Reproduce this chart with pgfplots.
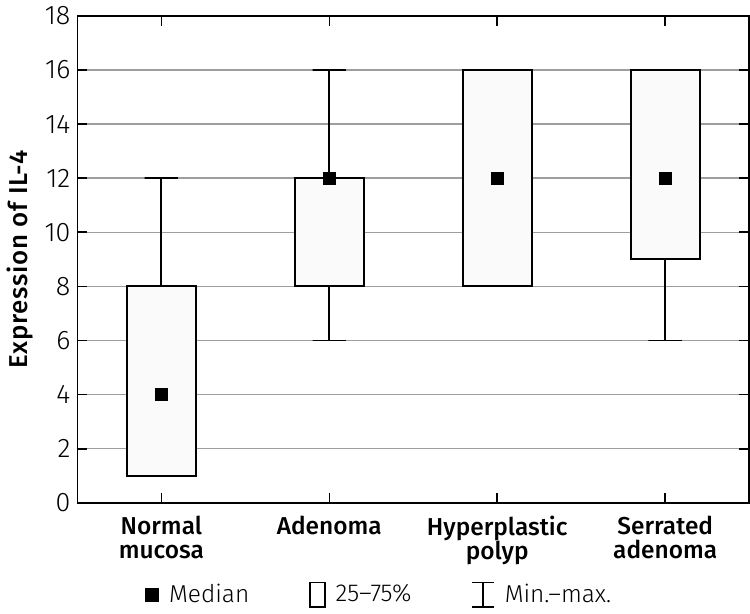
\documentclass[border=0pt]{standalone}
\usepackage{pgfplots}
\pgfplotsset{compat=1.18}
\usepackage{fontspec}
\setmainfont{Fira Sans}[UprightFont={* Light},BoldFont={* Medium}]
\begin{document}
\begin{tikzpicture}
\begin{axis}[
  scale only axis, width=338pt, height=245pt,
  xmin=-0.5, xmax=3.5, ymin=0, ymax=18,
  xtick={0,1,2,3},
  xticklabels={{Normal\\mucosa},{Adenoma},{Hyperplastic\\polyp},{Serrated\\adenoma}},
  xticklabel style={align=center, font=\fontsize{12.3}{12}\selectfont\bfseries, yshift=-3pt},
  ytick={0,2,...,18},
  yticklabel style={font=\fontsize{13.5}{13.5}\selectfont},
  /pgf/number format/assume math mode=true,
  ymajorgrids, grid style={black!38, line width=0.7pt},
  major tick length=5pt,
  tick style={black, line width=0.8pt},
  axis line style={line width=0.8pt},
  ylabel={\addfontfeatures{LetterSpace=3}\bfseries Expression of IL-4},
  ylabel style={font=\fontsize{13}{13}\selectfont, yshift=-1pt},
  legend columns=3,
  legend style={draw=none, fill=none, at={(axis description cs:0.451,-0.188)}, anchor=center,
    font=\fontsize{12.3}{12}\selectfont, column sep=0pt,
    nodes={inner sep=2pt},
    /tikz/every odd column/.append style={column sep=3pt},
    /tikz/every even column/.append style={column sep=28pt}},
]
\addlegendimage{legend image code/.code={\fill[black] (0pt,-3.6pt) rectangle ++(6.5pt,6.5pt);}}
\addlegendentry{Median}
\addlegendimage{legend image code/.code={\draw[black, line width=0.9pt] (0pt,-6.5pt) rectangle ++(7.5pt,12.5pt);}}
\addlegendentry{25--75\%}
\addlegendimage{legend image code/.code={\draw[black, line width=0.9pt] (0pt,-6.5pt) -- ++(11pt,0pt) (0pt,6pt) -- ++(11pt,0pt) (5.5pt,-6.5pt) -- ++(0pt,12.5pt);}}
\addlegendentry{Min.--max.}

% whiskers (min--max)
\addplot[forget plot, black, line width=1pt] coordinates {(0,8) (0,12) (-0.1,12) (0.1,12)};
\addplot[forget plot, black, line width=1pt] coordinates {(1,8) (1,6) (0.9,6) (1.1,6)};
\addplot[forget plot, black, line width=1pt] coordinates {(1,12) (1,16) (0.9,16) (1.1,16)};
\addplot[forget plot, black, line width=1pt] coordinates {(3,9) (3,6) (2.9,6) (3.1,6)};
% boxes (25--75%)
\addplot[forget plot, draw=black, line width=1.1pt, fill=white!98!black]
  coordinates {(-0.205,1) (0.205,1) (0.205,8) (-0.205,8)} -- cycle;
\addplot[forget plot, draw=black, line width=1.1pt, fill=white!98!black]
  coordinates {(0.795,8) (1.205,8) (1.205,12) (0.795,12)} -- cycle;
\addplot[forget plot, draw=black, line width=1.1pt, fill=white!98!black]
  coordinates {(1.795,8) (2.205,8) (2.205,16) (1.795,16)} -- cycle;
\addplot[forget plot, draw=black, line width=1.1pt, fill=white!98!black]
  coordinates {(2.795,9) (3.205,9) (3.205,16) (2.795,16)} -- cycle;
% medians
\addplot[forget plot, only marks, mark=square*, mark size=3pt, black]
  coordinates {(0,4) (1,12) (2,12) (3,12)};
\end{axis}
\end{tikzpicture}
\end{document}
